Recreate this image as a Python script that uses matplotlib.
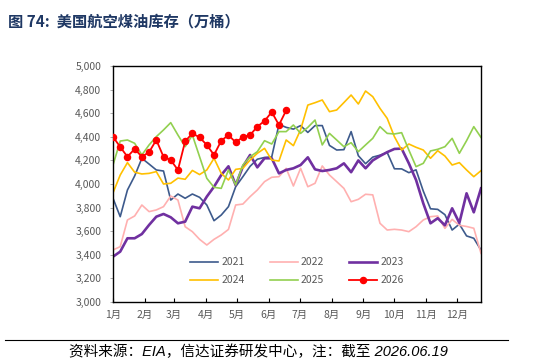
import numpy as np
import matplotlib
matplotlib.use("Agg")
import matplotlib.pyplot as plt

plt.rcParams['font.family'] = ['Noto Sans CJK SC', 'DejaVu Sans']

years = ["2021", "2022", "2023", "2024", "2025", "2026"]
month_labels = ["1月", "2月", "3月", "4月", "5月", "6月", "7月", "8月", "9月", "10月", "11月", "12月"]
month_start_day = [0, 31, 59, 90, 120, 151, 181, 212, 243, 273, 304, 334]
y_ticks = [3000, 3200, 3400, 3600, 3800, 4000, 4200, 4400, 4600, 4800, 5000]

s2021 = [3879, 3723, 3949, 4068, 4218, 4169, 4119, 4110, 3864, 3915, 3879, 3915, 3887, 3822, 3689, 3737,
         3808, 3977, 4062, 4150, 4210, 4225, 4230, 4505, 4480, 4465, 4495, 4437, 4495, 4495, 4327, 4288,
         4291, 4444, 4240, 4172, 4228, 4244, 4267, 4129, 4128, 4096, 4120, 3940, 3790, 3785, 3740, 3610,
         3660, 3560, 3540, 3440]
s2022 = [3441, 3469, 3695, 3729, 3822, 3766, 3780, 3808, 3898, 3864, 3638, 3596, 3531, 3483, 3531, 3568,
         3615, 3822, 3830, 3893, 3949, 4020, 4057, 4062, 4133, 3983, 4133, 3977, 4006, 4153, 4076, 4020,
         3963, 3850, 3870, 3913, 3908, 3667, 3610, 3616, 3610, 3596, 3638, 3695, 3723, 3729, 3624, 3700,
         3650, 3640, 3625, 3412]
s2023 = [3384, 3427, 3540, 3540, 3576, 3653, 3723, 3746, 3718, 3667, 3681, 3808, 3794, 3893, 3977, 4076,
         4150, 3990, 4147, 4246, 4141, 4218, 4218, 4090, 4119, 4133, 4161, 4226, 4124, 4110, 4119, 4133,
         4175, 4100, 4200, 4133, 4200, 4237, 4270, 4297, 4300, 4175, 4034, 3836, 3667, 3710, 3650, 3794,
         3670, 3921, 3760, 3963]
s2024 = [3925, 4076, 4181, 4100, 4085, 4090, 4105, 4000, 4006, 4050, 4040, 4115, 4080, 4119, 4218, 4090,
         4034, 4124, 4133, 4203, 4260, 4302, 4203, 4195, 4373, 4325, 4460, 4669, 4689, 4712, 4613, 4627,
         4690, 4754, 4678, 4788, 4740, 4641, 4556, 4401, 4288, 4339, 4311, 4288, 4218, 4282, 4237, 4161,
         4181, 4119, 4062, 4113]
s2025 = [4161, 4364, 4373, 4345, 4246, 4331, 4401, 4458, 4520, 4415, 4316, 4415, 4231, 4048, 3972, 3963,
         4119, 3992, 4161, 4231, 4274, 4367, 4339, 4444, 4444, 4500, 4429, 4480, 4542, 4331, 4429, 4373,
         4316, 4350, 4274, 4331, 4387, 4486, 4429, 4424, 4435, 4288, 4147, 4175, 4280, 4294, 4316, 4387,
         4260, 4367, 4486, 4395]
s2026 = [4400, 4314, 4231, 4297, 4231, 4270, 4373, 4231, 4203, 4119, 4362, 4429, 4395, 4331, 4246, 4367,
         4415, 4353, 4398, 4415, 4486, 4534, 4610, 4500, 4624]

series = [s2021, s2022, s2023, s2024, s2025, s2026]
colors = ['#3D5A8C', '#FFB0B0', '#7030A0', '#FFC000', '#92D050', '#FF0000']
widths = [1.2, 1.2, 1.9, 1.2, 1.2, 1.3]

fig = plt.figure(figsize=(5.48, 3.64), dpi=100)
ax = fig.add_axes([113/548, 62/364, 368/548, 236/364])

handles = {}
for name, vals, c, lw in zip(years, series, colors, widths):
    x = np.arange(len(vals)) * 7
    if name == "2026":
        h, = ax.plot(x, vals, color=c, lw=lw, marker='o', ms=4.4, zorder=5, label=name)
    else:
        h, = ax.plot(x, vals, color=c, lw=lw, label=name)
    handles[name] = h

ax.set_xlim(0, 357)
ax.set_ylim(3000, 5000)
ax.set_yticks(y_ticks)
ax.set_yticklabels([f"{v:,}" for v in y_ticks])
ax.set_xticks(month_start_day)
ax.set_xticklabels(month_labels)
ax.tick_params(axis='x', direction='in', length=3, width=0.8, colors='black', labelcolor='#595959',
               labelsize=7.5, pad=6)
ax.tick_params(axis='y', direction='out', length=2.5, width=0.6, colors='#A0A0A0', labelcolor='#595959',
               labelsize=7.5, pad=6)
for sp in ax.spines.values():
    sp.set_color('black')
    sp.set_linewidth(1.0)

order = ["2021", "2024", "2022", "2025", "2023", "2026"]
leg = ax.legend([handles[k] for k in order], order, ncol=3, loc='center', bbox_to_anchor=(0.5, 0.13),
                frameon=False, fontsize=7.5, handlelength=2.7, columnspacing=2.4, labelspacing=0.75,
                handletextpad=0.3, labelcolor='#595959')

fig.text(0.015, 0.94, "图 74:  美国航空煤油库存（万桶）", fontsize=11, fontweight='bold', color='#1F3864',
         ha='left', va='center')
fig.add_artist(plt.Line2D([5/548, 508/548], [1 - 340/364, 1 - 340/364], color='black', lw=0.8))
fig.text(258/548, 1 - 352/364, "资料来源：EIA，信达证券研发中心，注：截至 2026.06.19", fontsize=10.5,
         color='black', ha='center', va='center', style='italic',
         family=['Liberation Sans', 'Noto Sans CJK SC'])

fig.savefig("out.png", dpi=100)
